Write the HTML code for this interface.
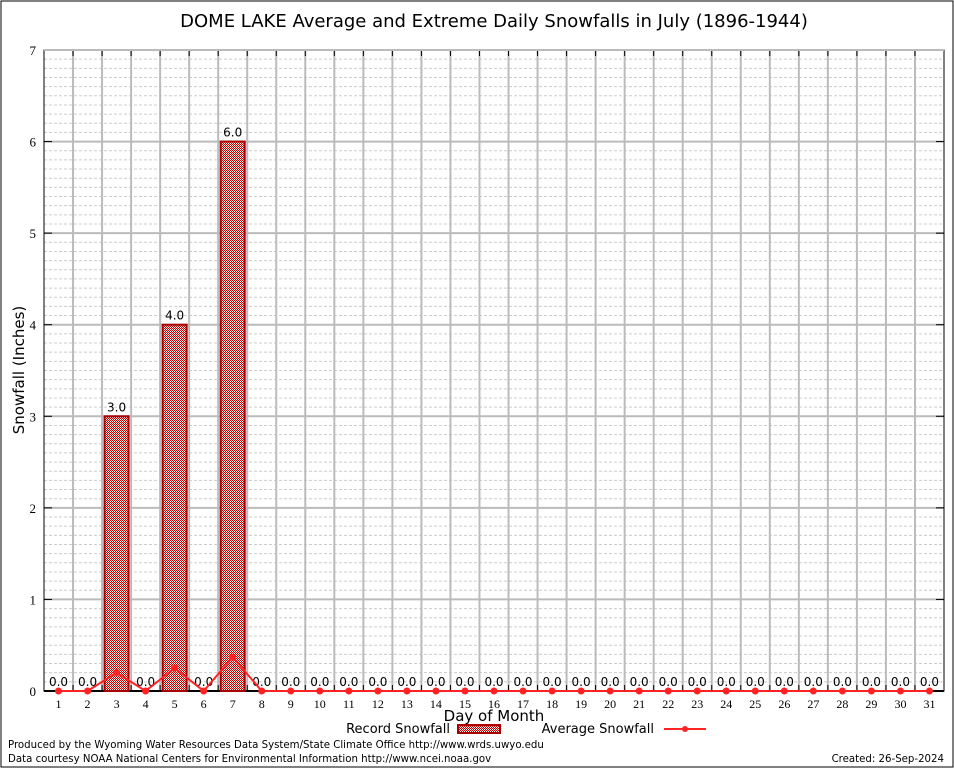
<!DOCTYPE html>
<html><head><meta charset="utf-8"><style>
body{margin:0;background:#fff}
svg{display:block;font-family:"DejaVu Sans","Liberation Sans",sans-serif}
</style></head><body>
<svg id="c" width="954" height="768">
<rect x="1" y="1" width="952" height="766" fill="#fff" stroke="#000" stroke-width="1"/>
<defs><pattern id="hatch" width="2" height="2" patternUnits="userSpaceOnUse"><rect width="2" height="2" fill="#fbeaea"/><rect width="1" height="1" fill="#b00"/><rect x="1" y="1" width="1" height="1" fill="#b00"/></pattern></defs>
<text x="494" y="27" font-size="18" text-anchor="middle">DOME LAKE Average and Extreme Daily Snowfalls in July (1896-1944)</text>
<g id="grid"></g><g id="bars"></g><g id="line"></g>
<text transform="translate(24,370) rotate(-90)" font-size="15" text-anchor="middle">Snowfall (Inches)</text>
<text x="494" y="721" font-size="15" text-anchor="middle">Day of Month</text>
<g font-size="13">
<text x="450" y="733" text-anchor="end">Record Snowfall</text>
<rect x="458" y="725" width="42" height="8" fill="url(#hatch)" stroke="#a00" stroke-width="2"/>
<text x="654" y="733" text-anchor="end">Average Snowfall</text>
<line x1="664" y1="729" x2="706" y2="729" stroke="#f22" stroke-width="2"/>
<circle cx="685" cy="729" r="3" fill="#f22"/>
</g>
<text x="8" y="748" font-size="10.2">Produced by the Wyoming Water Resources Data System/State Climate Office http://www.wrds.uwyo.edu</text>
<text x="8" y="762" font-size="10.2">Data courtesy NOAA National Centers for Environmental Information http://www.ncei.noaa.gov</text>
<text x="944" y="762" font-size="10.2" text-anchor="end">Created:  26-Sep-2024</text>
</svg>
<script>
const days=[1,2,3,4,5,6,7,8,9,10,11,12,13,14,15,16,17,18,19,20,21,22,23,24,25,26,27,28,29,30,31];
const recordSnow=[0,0,3,0,4,0,6,0,0,0,0,0,0,0,0,0,0,0,0,0,0,0,0,0,0,0,0,0,0,0,0];
const avgSnow=[0,0,0.2,0,0.25,0,0.37,0,0,0,0,0,0,0,0,0,0,0,0,0,0,0,0,0,0,0,0,0,0,0,0];
const yTicks=[0,1,2,3,4,5,6,7];
const NS="http://www.w3.org/2000/svg";
const L=44,R=944,T=50,B=691,ymax=7;
const step=(R-L)/days.length;
const x=d=>L+(d-0.5)*step;
const y=v=>B-(v/ymax)*(B-T);
function mk(t,a,p,txt){const e=document.createElementNS(NS,t);for(const k in a)e.setAttribute(k,a[k]);if(txt!==undefined)e.textContent=txt;p.appendChild(e);return e;}
const g=document.getElementById('grid'),gb=document.getElementById('bars'),gl=document.getElementById('line');
for(let i=1;i<ymax*10;i++){if(i%10===0)continue;const e=mk('line',{x1:L,x2:R,y1:y(i/10),y2:y(i/10),stroke:'#ccc','stroke-dasharray':'3,2','stroke-width':1},g);

}
for(let i=1;i<days.length;i++){const e=mk('line',{x1:L+i*step,x2:L+i*step,y1:T,y2:B,stroke:'#bbb','stroke-width':2},g);


mk('line',{x1:L+i*step,x2:L+i*step,y1:T,y2:T+6,stroke:'#000'},g);mk('line',{x1:L+i*step,x2:L+i*step,y1:B,y2:B-6,stroke:'#000'},g);}
yTicks.forEach(v=>{if(v>0&&v<ymax){const e=mk('line',{x1:L,x2:R,y1:y(v),y2:y(v),stroke:'#bbb','stroke-width':2},g);

}
mk('line',{x1:L,x2:L+8,y1:y(v),y2:y(v),stroke:'#000'},g);mk('line',{x1:R,x2:R-8,y1:y(v),y2:y(v),stroke:'#000'},g);
const t=mk('text',{x:L-8,y:y(v)+5,'font-size':13,'text-anchor':'end','font-family':'Liberation Serif,serif'},g,String(v));

});
const ax=mk('rect',{x:L,y:T,width:R-L,height:B-T,fill:'none',stroke:'#000','stroke-width':1},g);


mk('line',{x1:L,x2:R,y1:B,y2:B,stroke:'#000','stroke-width':2},g);
mk('line',{x1:L,x2:R,y1:T,y2:T,stroke:'#bbb','stroke-width':2},g);
days.forEach((d,i)=>{
const t=mk('text',{x:x(d),y:708,'font-size':12,'text-anchor':'middle','font-family':'Liberation Serif,serif'},g,String(d));


const v=recordSnow[i];
if(v>0){const b=mk('rect',{x:x(d)-12,y:y(v),width:24,height:B-y(v),fill:'url(#hatch)',stroke:'#a00','stroke-width':2},gb);

}
const lb=mk('text',{x:x(d),y:y(v)-5,'font-size':12,'text-anchor':'middle'},gb,v.toFixed(1));


});
const pl=mk('polyline',{points:days.map((d,i)=>x(d)+','+y(avgSnow[i])).join(' '),fill:'none',stroke:'#f22','stroke-width':2},gl);


days.forEach((d,i)=>{const c=mk('circle',{cx:x(d),cy:y(avgSnow[i]),r:3.5,fill:'#f22'},gl);

});
</script>
</body></html>
